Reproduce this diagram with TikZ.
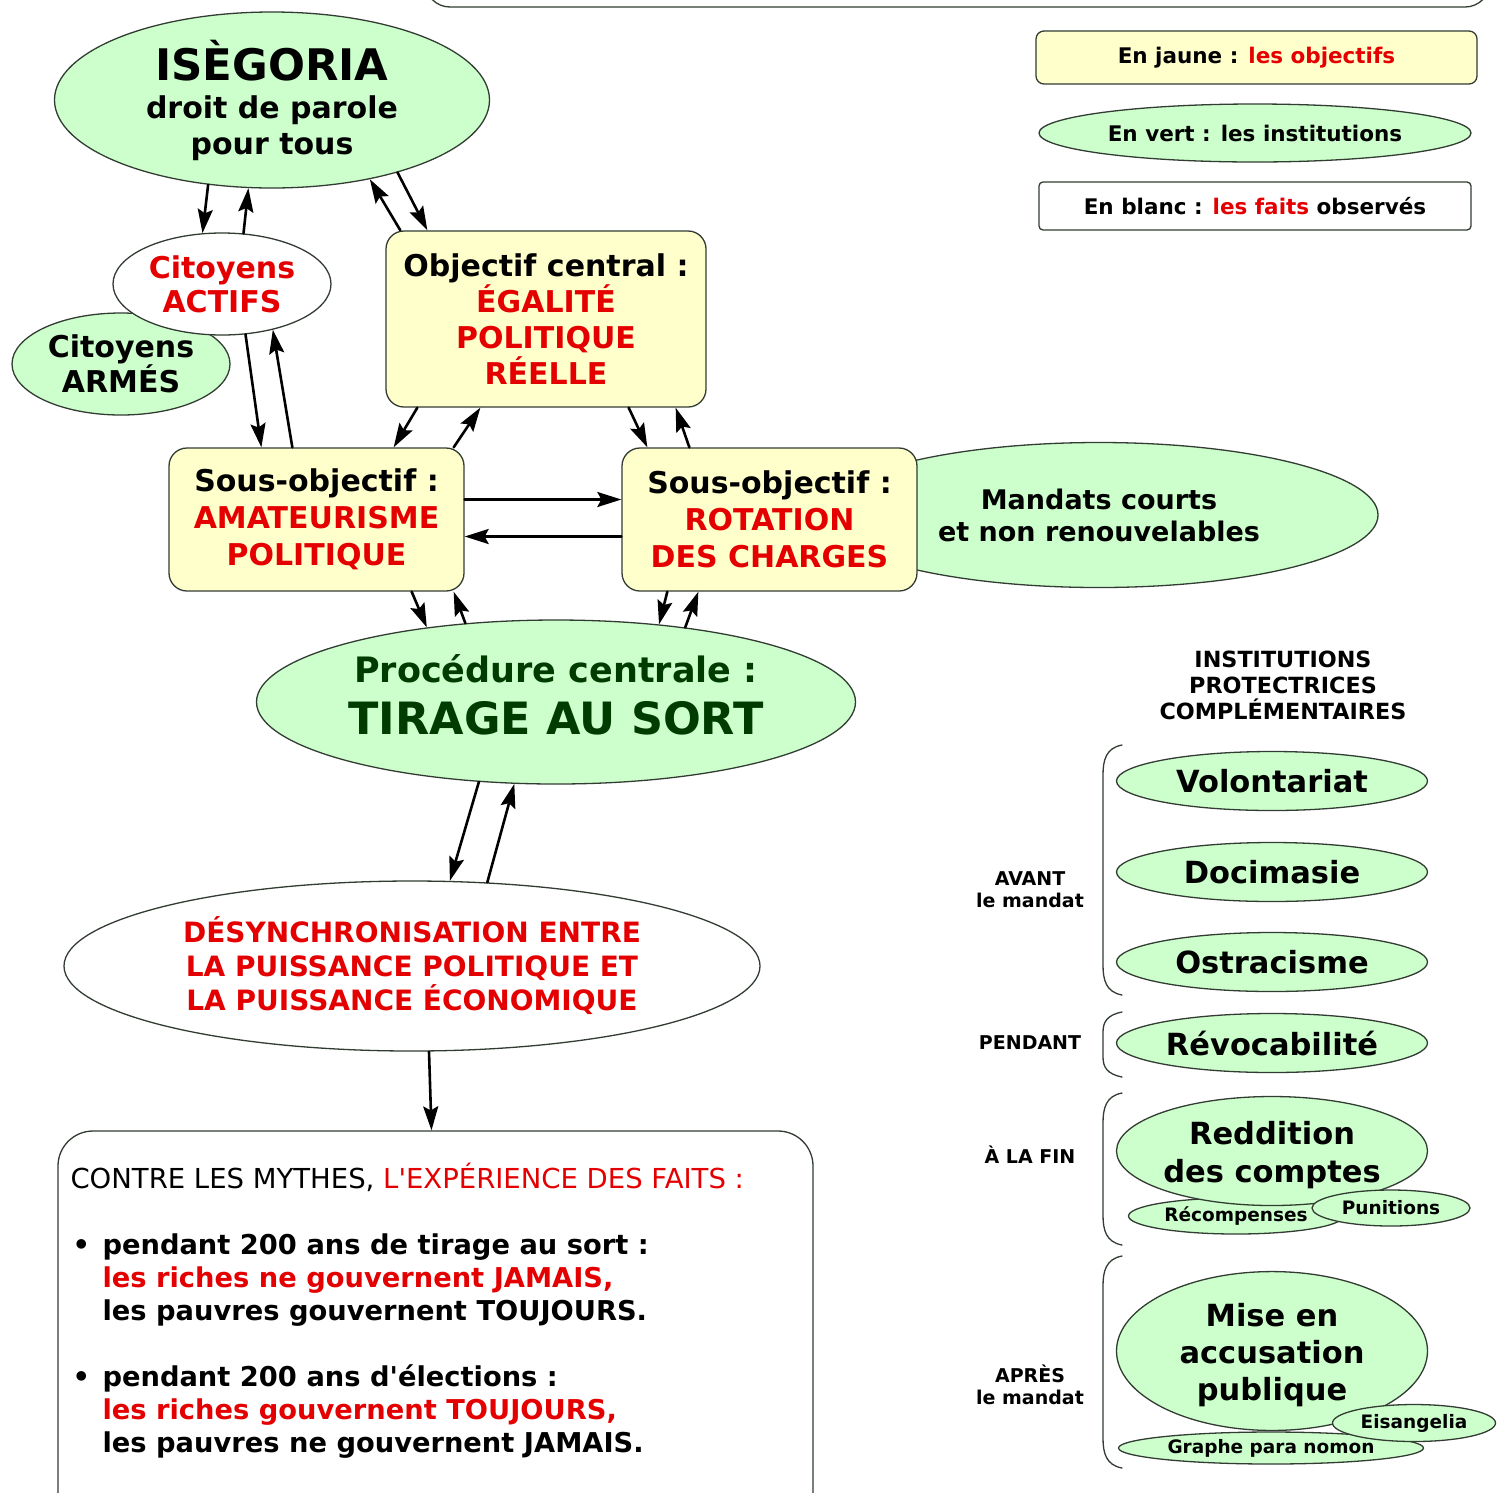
\documentclass[tikz,border=0pt]{standalone}
\usepackage{fontspec}
\setmainfont{DejaVu Sans}
\usetikzlibrary{arrows.meta,shapes.geometric,calc}

\definecolor{vertclair}{RGB}{204,255,204}
\definecolor{jauneclair}{RGB}{255,255,204}
\definecolor{rouge}{RGB}{228,0,0}
\definecolor{vertfonce}{RGB}{0,60,0}
\definecolor{contour}{RGB}{50,60,50}

\begin{document}
\begin{tikzpicture}[
  x=1pt,
  y=-1pt,
  line cap=round,
  line join=round,
  institution/.style={ellipse, draw=contour, line width=1.3pt, fill=vertclair, inner sep=0, align=center},
  grande/.style={institution, minimum width=311pt, font=\bfseries\fontsize{30.5}{38}\selectfont},
  petite/.style={institution, font=\bfseries\fontsize{18.5}{22}\selectfont},
  objectif/.style={draw=contour, line width=1.3pt, rounded corners=18pt, fill=jauneclair, inner sep=0, align=center},
  fait/.style={ellipse, draw=contour, line width=1.3pt, fill=white, inner sep=0, align=center},
  fleche/.style={draw=black, line width=2.6pt, -{Stealth[length=24pt,width=15pt,inset=4pt]}},
  accolade/.style={draw=contour, line width=1.3pt},
  periode/.style={font=\bfseries\fontsize{19}{22}\selectfont, align=center, inner sep=0},
  legende/.style={font=\bfseries\fontsize{21.5}{24}\selectfont},
  every node/.style={font=\bfseries\fontsize{30}{34}\selectfont, inner sep=0}
]
\path[use as bounding box] (0,0) rectangle (1506,1492);
\clip (0,0) rectangle (1506,1492);
\fill[white] (0,0) rectangle (1506,1492);

% Box cut by the top edge
\draw[contour, line width=1.3pt, rounded corners=25pt] (425,-60) rectangle (1490,7);

% Legend
\node[objectif, legende, rounded corners=8pt, minimum width=441pt, minimum height=53pt] (jaune)
  at (1256.5,57.5) {En jaune : \textcolor{rouge}{les objectifs}};
\node[institution, legende, minimum width=432pt, minimum height=58pt] (vert)
  at (1255,133) {En vert : les institutions};
\node[draw=contour, legende, line width=1.3pt, rounded corners=4pt, fill=white,
  minimum width=432pt, minimum height=48pt] (blanc)
  at (1255,206) {En blanc : \textcolor{rouge}{les faits} observés};

% Main nodes
\node[institution, minimum width=435pt, minimum height=176pt,
  font=\bfseries\fontsize{30}{36}\selectfont] (isegoria) at (272,100)
  {{\fontsize{43.5}{44}\selectfont ISÈGORIA}\\[2pt]droit de parole\\pour tous};

\node[institution, minimum width=218pt, minimum height=102pt] (armes) at (121,364)
  {Citoyens\\ARMÉS};
\node[fait, minimum width=218pt, minimum height=102pt, text=rouge] (actifs) at (222,284)
  {Citoyens\\ACTIFS};

\node[objectif, minimum width=320pt, minimum height=176pt,
  font=\bfseries\fontsize{30}{36}\selectfont] (central) at (546,319)
  {Objectif central :\\\textcolor{rouge}{ÉGALITÉ}\\\textcolor{rouge}{POLITIQUE}\\\textcolor{rouge}{RÉELLE}};

\node[institution, minimum width=558pt, minimum height=145pt,
  font=\bfseries\fontsize{27}{32}\selectfont] (mandats) at (1099,515)
  {Mandats courts\\et non renouvelables};

\node[objectif, minimum width=295pt, minimum height=143pt,
  font=\bfseries\fontsize{30}{37}\selectfont] (amateurisme) at (316.5,519.5)
  {Sous-objectif :\\\textcolor{rouge}{AMATEURISME}\\\textcolor{rouge}{POLITIQUE}};
\node[objectif, minimum width=295pt, minimum height=143pt,
  font=\bfseries\fontsize{30}{37}\selectfont] (rotation) at (769.5,519.5)
  {Sous-objectif :\\\textcolor{rouge}{ROTATION}\\\textcolor{rouge}{DES CHARGES}};

\node[institution, minimum width=599pt, minimum height=164pt, text=vertfonce,
  font=\bfseries\fontsize{35}{52}\selectfont] (tirage) at (556,702)
  {Procédure centrale :\\{\fontsize{44.5}{52}\selectfont TIRAGE AU SORT}\rule[-16pt]{0pt}{1pt}};

\node[fait, minimum width=696pt, minimum height=170pt, text=rouge,
  font=\bfseries\fontsize{28}{34}\selectfont] (desync) at (412,966)
  {DÉSYNCHRONISATION ENTRE\\LA PUISSANCE POLITIQUE ET\\LA PUISSANCE ÉCONOMIQUE};

\node[draw=contour, line width=1.3pt, rounded corners=35pt, fill=white,
  minimum width=755pt, minimum height=400pt] (faits) at (435.5,1331) {};
\node[anchor=north west, align=left, font=\bfseries\fontsize{27.3}{33}\selectfont] (mythes)
  at ($(faits.north west)+(13,32)$)
  {{\mdseries\fontsize{27.5}{33}\selectfont CONTRE LES MYTHES, \textcolor{rouge}{L\textquotesingle EXPÉRIENCE DES FAITS :}}\\[33pt]
   \makebox[32pt][l]{\hspace*{2pt}•}pendant 200 ans de tirage au sort :\\
   \hspace*{32pt}\textcolor{rouge}{les riches ne gouvernent JAMAIS,}\\
   \hspace*{32pt}les pauvres gouvernent TOUJOURS.\\[33pt]
   \makebox[32pt][l]{\hspace*{2pt}•}pendant 200 ans d\textquotesingle élections :\\
   \hspace*{32pt}\textcolor{rouge}{les riches gouvernent TOUJOURS,}\\
   \hspace*{32pt}les pauvres ne gouvernent JAMAIS.};

% Complementary institutions
\node[font=\bfseries\fontsize{22.3}{26}\selectfont, align=center] (protectrices) at (1283,685)
  {INSTITUTIONS\\PROTECTRICES\\COMPLÉMENTAIRES};

\node[grande, minimum height=59pt] (volontariat) at (1272,781) {Volontariat};
\node[grande, minimum height=59pt] (docimasie) at (1272,872) {Docimasie};
\node[grande, minimum height=59pt] (ostracisme) at (1272,962) {Ostracisme};
\node[grande, minimum height=59pt] (revocabilite) at (1272,1043) {Révocabilité};

\node[petite, minimum width=215pt, minimum height=36pt] (recompenses) at (1236,1216) {Récompenses};
\node[grande, minimum height=109pt] (reddition) at (1272,1151) {\rule{0pt}{31pt}Reddition\\des comptes};
\node[petite, minimum width=158pt, minimum height=36pt] (punitions) at (1391,1208) {Punitions};

\node[petite, minimum width=305pt, minimum height=32pt] (graphe) at (1271,1448) {Graphe para nomon};
\node[grande, minimum height=158pt, font=\bfseries\fontsize{30.5}{37}\selectfont] (accusation) at (1272,1351)
  {\rule{0pt}{32pt}Mise en\\accusation\\publique};
\node[petite, minimum width=163pt, minimum height=37pt] (eisangelia) at (1414,1423) {Eisangelia};

\node[periode] (avant) at (1030,890) {AVANT\\le mandat};
\node[periode] (pendant) at (1030,1043) {PENDANT};
\node[periode] (fin) at (1030,1155) {À LA FIN};
\node[periode] (apres) at (1030,1385) {APRÈS\\le mandat};

\draw[accolade] (1122,745) .. controls (1106,748) and (1103,760) .. (1103,775) -- (1103,965)
  .. controls (1103,980) and (1106,992) .. (1122,995);
\draw[accolade] (1122,1012) .. controls (1107,1015) and (1103,1022) .. (1103,1032) -- (1103,1057)
  .. controls (1103,1067) and (1107,1074) .. (1122,1077);
\draw[accolade] (1122,1093) .. controls (1106,1096) and (1103,1108) .. (1103,1123) -- (1103,1215)
  .. controls (1103,1230) and (1106,1242) .. (1122,1245);
\draw[accolade] (1122,1256) .. controls (1106,1259) and (1103,1271) .. (1103,1286) -- (1103,1438)
  .. controls (1103,1453) and (1106,1465) .. (1122,1468);

% Connections
\draw[fleche] (isegoria.233) -- (actifs.111);
\draw[fleche] (actifs.67) -- (isegoria.255);

\draw[fleche] (actifs.-65) -- ($(amateurisme.north west)+(93,0)$);
\draw[fleche] ($(amateurisme.north west)+(124,0)$) -- (actifs.-42);

\draw[fleche] ($(central.north west)+(15,0)$) -- (isegoria.-39);
\draw[fleche] (isegoria.-30) -- ($(central.north west)+(42,0)$);

\draw[fleche] ($(central.south west)+(32,0)$) -- ($(amateurisme.north east)+(-71,0)$);
\draw[fleche] ($(amateurisme.north east)+(-11,0)$) -- ($(central.south west)+(95,0)$);

\draw[fleche] ($(central.south east)+(-78,0)$) -- ($(rotation.north west)+(26,0)$);
\draw[fleche] ($(rotation.north west)+(68,0)$) -- ($(central.south east)+(-31,0)$);

\draw[fleche] ($(amateurisme.east)+(0,-20)$) -- ($(rotation.west)+(0,-20)$);
\draw[fleche] ($(rotation.west)+(0,17)$) -- ($(amateurisme.east)+(0,17)$);

\draw[fleche] ($(amateurisme.south east)+(-53,0)$) -- (tirage.150);
\draw[fleche] (tirage.139) -- ($(amateurisme.south east)+(-11,0)$);
\draw[fleche] ($(rotation.south west)+(46,0)$) -- (tirage.37);
\draw[fleche] (tirage.30) -- ($(rotation.south west)+(77,0)$);

\draw[fleche] (tirage.-134) -- (desync.66);
\draw[fleche] (desync.48) -- (tirage.-117);

\draw[fleche] ($(desync.south)+(17,0)$) -- ($(faits.north)+(-4,0)$);

\end{tikzpicture}
\end{document}
